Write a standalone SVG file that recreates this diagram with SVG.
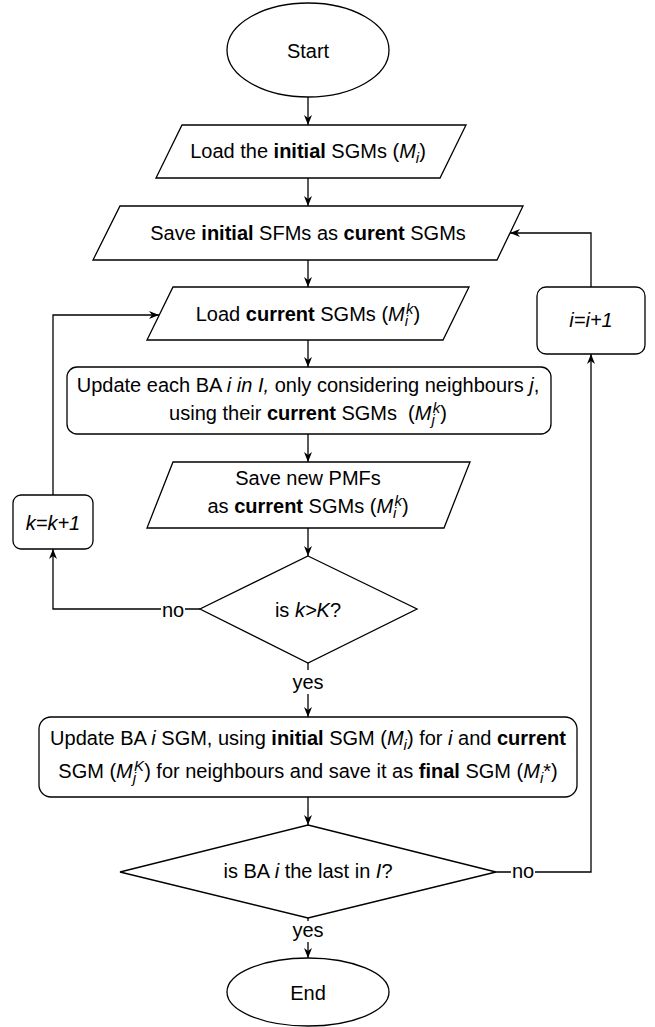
<svg xmlns="http://www.w3.org/2000/svg" width="655" height="1027" viewBox="0 0 655 1027">
<style>
.sh{fill:#fff;stroke:#000;stroke-width:1.3}
.ln{fill:none;stroke:#000;stroke-width:1.3}
.t{font-family:"Liberation Sans",Arial,sans-serif;font-size:20px;fill:#000;text-anchor:middle}
.b{font-weight:bold}
.i{font-style:italic}
.s{font-style:italic;font-size:15px}
.bg{fill:#fff;stroke:none}
</style>
<defs>
<marker id="arr" viewBox="0 0 10 8" refX="10" refY="4" markerWidth="10" markerHeight="8" markerUnits="userSpaceOnUse" orient="auto">
<path d="M0,0 L10,4 L0,8 L3,4 Z" fill="#000"/>
</marker>
</defs>
<g id="connectors">
<line class="ln" x1="308" y1="97" x2="308" y2="125" marker-end="url(#arr)"/>
<line class="ln" x1="308" y1="178" x2="308" y2="206" marker-end="url(#arr)"/>
<line class="ln" x1="308" y1="260" x2="308" y2="287" marker-end="url(#arr)"/>
<line class="ln" x1="308" y1="340" x2="308" y2="367" marker-end="url(#arr)"/>
<line class="ln" x1="308" y1="434" x2="308" y2="462" marker-end="url(#arr)"/>
<line class="ln" x1="308" y1="528" x2="308" y2="556" marker-end="url(#arr)"/>
<line class="ln" x1="308" y1="663" x2="308" y2="717" marker-end="url(#arr)"/>
<line class="ln" x1="308" y1="797" x2="308" y2="825" marker-end="url(#arr)"/>
<line class="ln" x1="308" y1="918" x2="308" y2="958" marker-end="url(#arr)"/>
<polyline class="ln" points="200,609 53,609 53,549" marker-end="url(#arr)"/>
<polyline class="ln" points="53,495 53,315 159,315" marker-end="url(#arr)"/>
<polyline class="ln" points="496,872 591,872 591,354" marker-end="url(#arr)"/>
<polyline class="ln" points="591,287 591,233 510,233" marker-end="url(#arr)"/>
<rect class="bg" x="161" y="600" width="24" height="18"/>
<text class="t" x="173" y="617">no</text>
<rect class="bg" x="292" y="670" width="32" height="24"/>
<text class="t" x="308" y="689">yes</text>
<rect class="bg" x="511" y="863" width="24" height="18"/>
<text class="t" x="523" y="878">no</text>
<rect class="bg" x="292" y="921" width="32" height="21"/>
<text class="t" x="308" y="937">yes</text>
</g>
<g id="start">
<ellipse class="sh" cx="308" cy="50" rx="81" ry="47"/>
<text class="t" x="308" y="58">Start</text>
</g>
<g id="load-initial">
<polygon class="sh" points="182,125 466,125 440,178 156,178"/>
<text class="t" x="308" y="158">Load the <tspan class="b">initial</tspan> SGMs (<tspan class="i">M</tspan><tspan class="s" dy="5">i</tspan><tspan dy="-5">)</tspan></text>
</g>
<g id="save-initial">
<polygon class="sh" points="120,206 523,206 497,260 93,260"/>
<text class="t" x="308" y="240">Save <tspan class="b">initial</tspan> SFMs as <tspan class="b">curent</tspan> SGMs</text>
</g>
<g id="load-current">
<polygon class="sh" points="173,287 469,287 443,340 147,340"/>
<text class="t" x="308" y="321">Load <tspan class="b">current</tspan> SGMs (<tspan class="i">M</tspan><tspan class="s" dy="5">i</tspan><tspan class="s" dx="-2" dy="-12">k</tspan><tspan dy="7">)</tspan></text>
</g>
<g id="i-inc">
<rect class="sh" x="537" y="287" width="108" height="67" rx="9" ry="9"/>
<text class="t i" x="591" y="327">i=i+1</text>
</g>
<g id="update-each">
<rect class="sh" x="67" y="367" width="484" height="67" rx="10" ry="10"/>
<text class="t" x="308" y="392">Update each BA <tspan class="i">i in I,</tspan> only considering neighbours <tspan class="i">j</tspan>,</text>
<text class="t" x="308" y="420">using their <tspan class="b">current</tspan> SGMs&#160; (<tspan class="i">M</tspan><tspan class="s" dy="5">j</tspan><tspan class="s" dx="-2" dy="-12">k</tspan><tspan dy="7">)</tspan></text>
</g>
<g id="save-new">
<polygon class="sh" points="173,462 470,462 444,528 147,528"/>
<text class="t" x="308" y="485">Save new PMFs</text>
<text class="t" x="308" y="513">as <tspan class="b">current</tspan> SGMs (<tspan class="i">M</tspan><tspan class="s" dy="5">i</tspan><tspan class="s" dx="-2" dy="-12">k</tspan><tspan dy="7">)</tspan></text>
</g>
<g id="k-inc">
<rect class="sh" x="13" y="495" width="80" height="54" rx="8" ry="8"/>
<text class="t i" x="53" y="530">k=k+1</text>
</g>
<g id="check-k">
<polygon class="sh" points="308,556 417,609 308,663 200,609"/>
<text class="t" x="308" y="617">is <tspan class="i">k&gt;K</tspan>?</text>
</g>
<g id="update-final">
<rect class="sh" x="39" y="717" width="538" height="80" rx="12" ry="12"/>
<text class="t" x="308" y="745">Update BA <tspan class="i">i</tspan> SGM, using <tspan class="b">initial</tspan> SGM (<tspan class="i">M</tspan><tspan class="s" dy="5">i</tspan><tspan dy="-5">) for </tspan><tspan class="i">i</tspan> and <tspan class="b">current</tspan></text>
<text class="t" x="308" y="778">SGM (<tspan class="i">M</tspan><tspan class="s" dy="5">j</tspan><tspan class="s" dx="-2" dy="-12">K</tspan><tspan dy="7">) for neighbours and save it as </tspan><tspan class="b">final</tspan> SGM (<tspan class="i">M</tspan><tspan class="s" dy="5">i</tspan><tspan dy="-5">*)</tspan></text>
</g>
<g id="check-last">
<polygon class="sh" points="308,825 496,872 308,918 120,872"/>
<text class="t" x="308" y="878">is BA <tspan class="i">i</tspan> the last in <tspan class="i">I</tspan>?</text>
</g>
<g id="end">
<ellipse class="sh" cx="308" cy="992" rx="81" ry="34"/>
<text class="t" x="308" y="1000">End</text>
</g>
</svg>
